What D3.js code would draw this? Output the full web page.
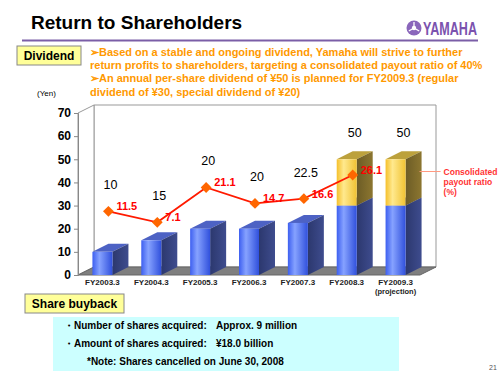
<!DOCTYPE html>
<html>
<head>
<meta charset="utf-8">
<script src="https://cdn.jsdelivr.net/npm/d3@7"></script>
<style>
  body { margin: 0; background: #fff; }
  svg { display: block; font-family: "Liberation Sans", Arial, sans-serif; }
</style>
</head>
<body>
<div id="chart"></div>
<script>
// DATA
var categories = ['FY2003.3', 'FY2004.3', 'FY2005.3', 'FY2006.3', 'FY2007.3', 'FY2008.3', 'FY2009.3'];
var regularDividend = [10, 15, 20, 20, 22.5, 30, 30];
var specialDividend = [0, 0, 0, 0, 0, 20, 20];
var payoutRatio = [11.5, 7.1, 21.1, 14.7, 16.6, 26.1, null];
var yTicks = [0, 10, 20, 30, 40, 50, 60, 70];

var width = 500, height = 375;
var DX = 16, DY = -8;   // 3d depth offset
var bw = 20;            // bar front width

var svg = d3.select('#chart').append('svg')
  .attr('width', width)
  .attr('height', height);

svg.append('rect').attr('width', width).attr('height', height).attr('fill', '#fff');

// GRADIENTS
var defs = svg.append('defs');
function hGrad(id, stops) {
  var g = defs.append('linearGradient').attr('id', id)
    .attr('x1', '0%').attr('x2', '100%').attr('y1', '0%').attr('y2', '0%');
  stops.forEach(function(s) {
    g.append('stop').attr('offset', s[0]).attr('stop-color', s[1]);
  });
}
hGrad('blueFront', [['0%', '#3d5ff0'], ['35%', '#86a2ff'], ['100%', '#3050dc']]);
hGrad('blueSide', [['0%', '#2c386e'], ['100%', '#3e4c8e']]);
hGrad('yellowFront', [['0%', '#f5c02c'], ['35%', '#ffe98e'], ['100%', '#f0c232']]);
hGrad('yellowSide', [['0%', '#6c5c26'], ['100%', '#8c7630']]);

// HEADER
svg.append('text').attr('x', 31).attr('y', 29)
  .attr('font-size', 19).attr('font-weight', 'bold').attr('fill', '#000')
  .text('Return to Shareholders');

svg.append('line').attr('x1', 22).attr('x2', 478).attr('y1', 40.5).attr('y2', 40.5)
  .attr('stroke', '#7b5ea7').attr('stroke-width', 2);

// logo
var logo = svg.append('g').attr('transform', 'translate(414,28)');
logo.append('circle').attr('r', 7.5).attr('fill', '#8a66bb');
[0, 120, 240].forEach(function(a) {
  logo.append('line').attr('x1', 0).attr('y1', 0).attr('x2', 0).attr('y2', -6)
    .attr('stroke', '#fff').attr('stroke-width', 1.3)
    .attr('transform', 'rotate(' + a + ')');
});
logo.append('circle').attr('r', 2.2).attr('fill', '#fff');
svg.append('text').attr('x', 423).attr('y', 35)
  .attr('font-size', 18).attr('font-weight', 'bold').attr('fill', '#7b52ae')
  .attr('textLength', 54).attr('lengthAdjust', 'spacingAndGlyphs')
  .text('YAMAHA');

// Dividend box
svg.append('rect').attr('x', 17).attr('y', 46).attr('width', 64).attr('height', 19)
  .attr('fill', '#ffff99').attr('stroke', '#888').attr('stroke-width', 1);
svg.append('text').attr('x', 49).attr('y', 60).attr('text-anchor', 'middle')
  .attr('font-size', 12).attr('font-weight', 'bold').text('Dividend');

var bulletLines = [
  '\u27A2Based on a stable and ongoing dividend, Yamaha will strive to further',
  'return profits to shareholders, targeting a consolidated payout ratio of 40%',
  '\u27A2An annual per-share dividend of \u00A550 is planned for FY2009.3 (regular',
  'dividend of \u00A530, special dividend of \u00A520)'
];
svg.selectAll('.bullet').data(bulletLines).enter().append('text')
  .attr('class', 'bullet')
  .attr('x', 90)
  .attr('y', function(d, i) { return 55.5 + i * 13.4; })
  .attr('font-size', 11).attr('font-weight', 'bold').attr('fill', '#ff9900')
  .text(function(d) { return d; });

svg.append('text').attr('x', 37).attr('y', 96)
  .attr('font-size', 8).attr('fill', '#000').text('(Yen)');

// CHART
var x = d3.scalePoint().domain(categories).range([78, 420]).padding(0.5);
var y = d3.scaleLinear().domain([0, 70]).range([275, 113]);
var y2 = d3.scaleLinear().domain([0, 50]).range([240, 115.5]);

var x0 = x.range()[0], x1 = x.range()[1];
var yTop = y(70), yBase = y(0);

// walls and floor
svg.append('path')
  .attr('d', 'M' + (x0 + DX) + ',' + (yTop + DY) + 'H' + (x1 + DX) + 'V' + (yBase + DY) + 'H' + (x0 + DX) + 'Z')
  .attr('fill', '#fff').attr('stroke', '#999').attr('stroke-width', 1);
svg.append('path')
  .attr('d', 'M' + x0 + ',' + yTop + 'L' + (x0 + DX) + ',' + (yTop + DY) + 'V' + (yBase + DY) + 'L' + x0 + ',' + yBase + 'Z')
  .attr('fill', '#fff').attr('stroke', '#999').attr('stroke-width', 1);
svg.append('path')
  .attr('d', 'M' + x0 + ',' + yBase + 'L' + (x0 + DX) + ',' + (yBase + DY) + 'H' + (x1 + DX) + 'L' + x1 + ',' + yBase + 'Z')
  .attr('fill', '#7f7f7f').attr('stroke', '#666').attr('stroke-width', 1);

// y axis
var yAxis = svg.append('g').attr('transform', 'translate(' + x0 + ',0)')
  .call(d3.axisLeft(y).tickValues(yTicks).tickSize(4).tickPadding(3));
yAxis.select('.domain').attr('stroke', '#888');
yAxis.selectAll('.tick line').attr('stroke', '#888');
yAxis.selectAll('.tick text')
  .attr('font-size', 12).attr('font-weight', 'bold').attr('fill', '#000')
  .attr('font-family', '"Liberation Sans", Arial, sans-serif');

// x labels
svg.selectAll('.xlab').data(categories).enter().append('text')
  .attr('class', 'xlab')
  .attr('x', function(d) { return x(d); })
  .attr('y', 285)
  .attr('text-anchor', 'middle')
  .attr('font-size', 8).attr('font-weight', 'bold').attr('fill', '#222')
  .text(function(d) { return d; });
svg.append('text').attr('x', x(categories[6])).attr('y', 294)
  .attr('text-anchor', 'middle').attr('font-size', 7.5).attr('font-weight', 'bold').attr('fill', '#222')
  .text('(projection)');

// 3d bars
var segments = [];
categories.forEach(function(c, i) {
  segments.push({cat: c, v0: 0, v1: regularDividend[i], kind: 'blue'});
  if (specialDividend[i] > 0) {
    segments.push({cat: c, v0: regularDividend[i], v1: regularDividend[i] + specialDividend[i], kind: 'yellow'});
  }
});
var topColor = {blue: '#4d62c4', yellow: '#bca13c'};

var bars = svg.selectAll('.seg').data(segments).enter().append('g').attr('class', 'seg');
bars.append('path')
  .attr('d', function(d) {
    var l = x(d.cat) - bw / 2, r = x(d.cat) + bw / 2, t = y(d.v1);
    return 'M' + l + ',' + t + 'L' + (l + DX) + ',' + (t + DY) + 'H' + (r + DX) + 'L' + r + ',' + t + 'Z';
  })
  .attr('fill', function(d) { return topColor[d.kind]; });
bars.append('path')
  .attr('d', function(d) {
    var r = x(d.cat) + bw / 2, t = y(d.v1), b = y(d.v0);
    return 'M' + r + ',' + t + 'L' + (r + DX) + ',' + (t + DY) + 'V' + (b + DY) + 'L' + r + ',' + b + 'Z';
  })
  .attr('fill', function(d) { return 'url(#' + d.kind + 'Side)'; });
bars.append('rect')
  .attr('x', function(d) { return x(d.cat) - bw / 2; })
  .attr('y', function(d) { return y(d.v1); })
  .attr('width', bw)
  .attr('height', function(d) { return y(d.v0) - y(d.v1); })
  .attr('fill', function(d) { return 'url(#' + d.kind + 'Front)'; });

// payout ratio line
var mx = function(i) { return x(categories[i]) + 6; };
var pts = payoutRatio.map(function(v, i) { return {i: i, v: v}; });
var line = d3.line()
  .defined(function(d) { return d.v != null; })
  .x(function(d) { return mx(d.i); })
  .y(function(d) { return y2(d.v); });
svg.append('path').datum(pts).attr('d', line)
  .attr('fill', 'none').attr('stroke', '#ff1a00').attr('stroke-width', 1.8);

var valid = pts.filter(function(d) { return d.v != null; });
svg.selectAll('.mk').data(valid).enter().append('path')
  .attr('class', 'mk')
  .attr('d', d3.symbol().type(d3.symbolDiamond2).size(75))
  .attr('transform', function(d) { return 'translate(' + mx(d.i) + ',' + y2(d.v) + ')'; })
  .attr('fill', '#ff6600');
svg.selectAll('.pl').data(valid).enter().append('text')
  .attr('class', 'pl')
  .attr('x', function(d) { return mx(d.i) + 8; })
  .attr('y', function(d) { return y2(d.v) - 1; })
  .attr('font-size', 11).attr('font-weight', 'bold').attr('fill', '#ff0000')
  .text(function(d) { return d.v; });

// dividend totals
svg.selectAll('.tl').data(categories).enter().append('text')
  .attr('class', 'tl')
  .attr('x', function(d) { return x(d) + 8; })
  .attr('y', function(d, i) {
    var top = y(regularDividend[i] + specialDividend[i]);
    if (payoutRatio[i] != null) top = Math.min(top, y2(payoutRatio[i]));
    return top - 22;
  })
  .attr('text-anchor', 'middle')
  .attr('font-size', 12.5).attr('fill', '#000')
  .text(function(d, i) { return regularDividend[i] + specialDividend[i]; });

// legend annotation
var lx = x(categories[6]) + bw / 2 + DX;
svg.append('line').attr('x1', lx - 2).attr('x2', lx + 19).attr('y1', 171.5).attr('y2', 171.5)
  .attr('stroke', '#ff9980').attr('stroke-width', 1);
svg.selectAll('.lg').data(['Consolidated', 'payout ratio', '(%)']).enter().append('text')
  .attr('class', 'lg')
  .attr('x', lx + 22)
  .attr('y', function(d, i) { return 175 + i * 10; })
  .attr('font-size', 8.5).attr('font-weight', 'bold').attr('fill', '#ff3333')
  .text(function(d) { return d; });

// SHARE BUYBACK
svg.append('rect').attr('x', 25).attr('y', 294).attr('width', 99).attr('height', 19)
  .attr('fill', '#ffff99').attr('stroke', '#888').attr('stroke-width', 1);
svg.append('text').attr('x', 74.5).attr('y', 308).attr('text-anchor', 'middle')
  .attr('font-size', 12).attr('font-weight', 'bold').text('Share buyback');

svg.append('rect').attr('x', 53).attr('y', 317).attr('width', 346).attr('height', 54)
  .attr('fill', '#ccffff');
var bb = [
  ['\u30FBNumber of shares acquired:', 'Approx. 9 million'],
  ['\u30FBAmount of shares acquired:', '\u00A518.0 billion']
];
bb.forEach(function(r, i) {
  var t = svg.append('text').attr('y', 328.5 + i * 18.3)
    .attr('font-size', 10).attr('font-weight', 'bold').attr('fill', '#000');
  t.append('tspan').attr('x', 64).text(r[0]);
  t.append('tspan').attr('x', 216).text(r[1]);
});
svg.append('text').attr('x', 87).attr('y', 365)
  .attr('font-size', 10).attr('font-weight', 'bold').attr('fill', '#000')
  .text('*Note: Shares cancelled on June 30, 2008');

svg.append('text').attr('x', 489).attr('y', 370)
  .attr('font-size', 7).attr('fill', '#555').text('21');
</script>
</body>
</html>
